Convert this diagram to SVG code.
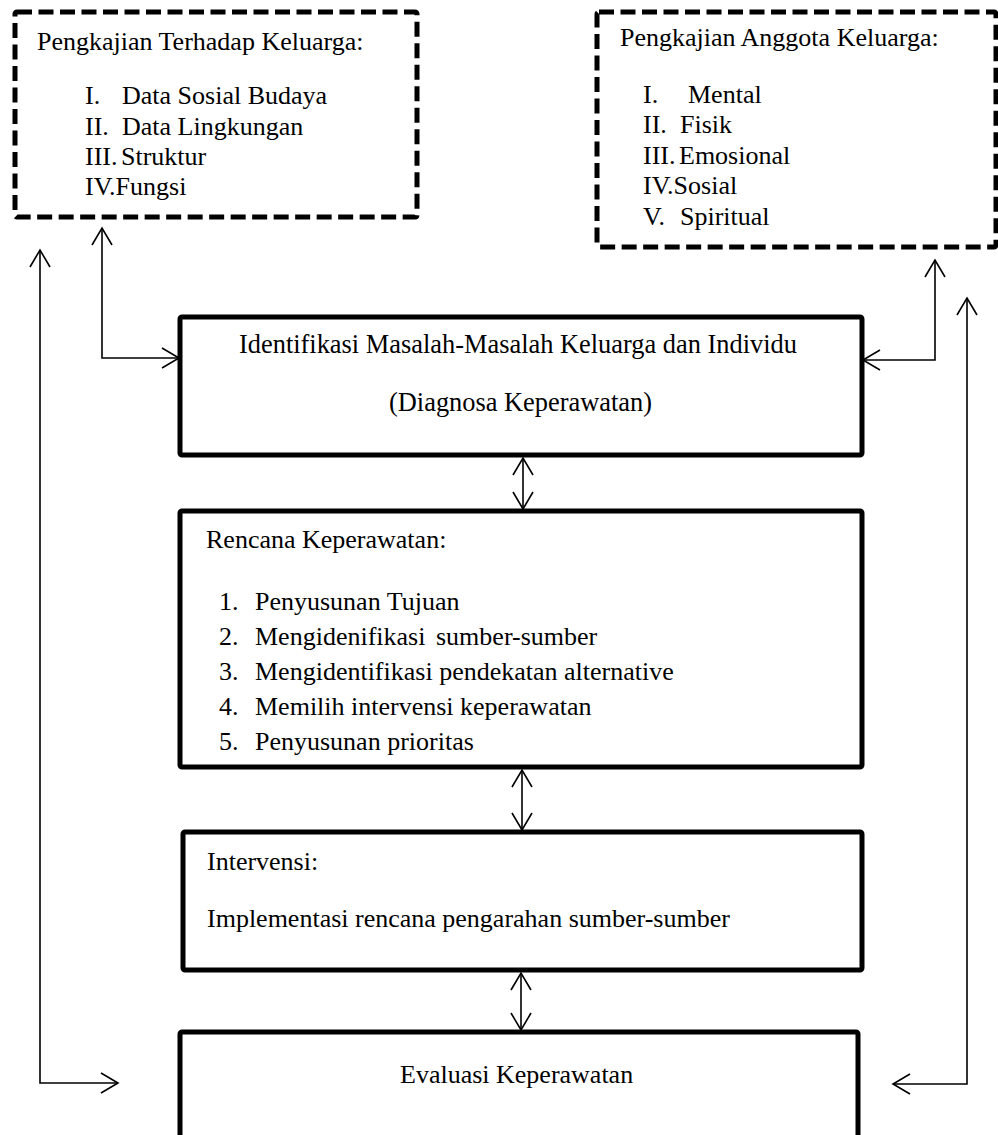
<svg xmlns="http://www.w3.org/2000/svg" width="998" height="1135" viewBox="0 0 998 1135" font-family="'Liberation Serif', serif" font-size="26">
<style>
text{font-family:'Liberation Serif',serif;font-size:26px;fill:#000}
.dash{fill:none;stroke:#000;stroke-width:5;stroke-dasharray:15 6.5}
.box{fill:none;stroke:#000;stroke-width:5}
.con{fill:none;stroke:#000;stroke-width:1.6;marker-end:url(#ah)}
.both{marker-start:url(#ah)}
</style>
<defs>
<marker id="ah" markerUnits="userSpaceOnUse" viewBox="-20 -12 22 24" refX="0" refY="0" markerWidth="22" markerHeight="24" orient="auto-start-reverse">
<path d="M-17,-10 L0,0 L-17,10" fill="none" stroke="#000" stroke-width="1.6"/>
</marker>
</defs>
<rect width="998" height="1135" fill="#fff"/>

<g id="pengkajian-keluarga">
<rect class="dash" x="15" y="12" width="402" height="205" rx="2"/>
<text x="37" y="50">Pengkajian Terhadap Keluarga:</text>
<text y="104"><tspan x="85">I.</tspan><tspan x="122">Data Sosial Budaya</tspan></text>
<text y="135"><tspan x="85">II.</tspan><tspan x="122">Data Lingkungan</tspan></text>
<text y="165"><tspan x="85">III.</tspan><tspan x="121">Struktur</tspan></text>
<text x="85" y="195">IV.Fungsi</text>
</g>

<g id="pengkajian-anggota">
<rect class="dash" x="597" y="12" width="399" height="235" rx="2"/>
<text x="620" y="46">Pengkajian Anggota Keluarga:</text>
<text y="103"><tspan x="643">I.</tspan><tspan x="688">Mental</tspan></text>
<text y="133"><tspan x="643">II.</tspan><tspan x="680">Fisik</tspan></text>
<text y="164"><tspan x="643">III.</tspan><tspan x="679">Emosional</tspan></text>
<text x="643" y="194">IV.Sosial</text>
<text y="225"><tspan x="643">V.</tspan><tspan x="680">Spiritual</tspan></text>
</g>

<g id="identifikasi">
<rect class="box" x="180" y="317" width="682" height="138" rx="2"/>
<text x="239" y="353" style="font-size:26.4px">Identifikasi Masalah-Masalah Keluarga dan Individu</text>
<text x="389" y="411" style="font-size:26.4px">(Diagnosa Keperawatan)</text>
</g>

<g id="rencana">
<rect class="box" x="180" y="511" width="682" height="256" rx="2"/>
<text x="206" y="548">Rencana Keperawatan:</text>
<text y="610"><tspan x="219">1.</tspan><tspan x="255">Penyusunan Tujuan</tspan></text>
<text y="645"><tspan x="219">2.</tspan><tspan x="255">Mengidenifikasi</tspan><tspan x="436">sumber-sumber</tspan></text>
<text y="680"><tspan x="219">3.</tspan><tspan x="255">Mengidentifikasi pendekatan alternative</tspan></text>
<text y="715"><tspan x="219">4.</tspan><tspan x="255">Memilih intervensi keperawatan</tspan></text>
<text y="750"><tspan x="219">5.</tspan><tspan x="255">Penyusunan prioritas</tspan></text>
</g>

<g id="intervensi">
<rect class="box" x="183" y="832" width="679" height="138" rx="2"/>
<text x="207" y="870">Intervensi:</text>
<text x="207" y="927">Implementasi rencana pengarahan sumber-sumber</text>
</g>

<g id="evaluasi">
<rect class="box" x="180" y="1032" width="678" height="130" rx="2"/>
<text x="400" y="1083">Evaluasi Keperawatan</text>
</g>

<g id="connectors">
<path class="con both" d="M102,228 V358 H179"/>
<path class="con both" d="M935,260 V360 H863"/>
<path class="con both" d="M40,250 V1083 H118"/>
<path class="con both" d="M967,298 V1084 H893"/>
<path class="con both" d="M523,458 V509"/>
<path class="con both" d="M522,770 V830"/>
<path class="con both" d="M521,973 V1030"/>
</g>
</svg>
